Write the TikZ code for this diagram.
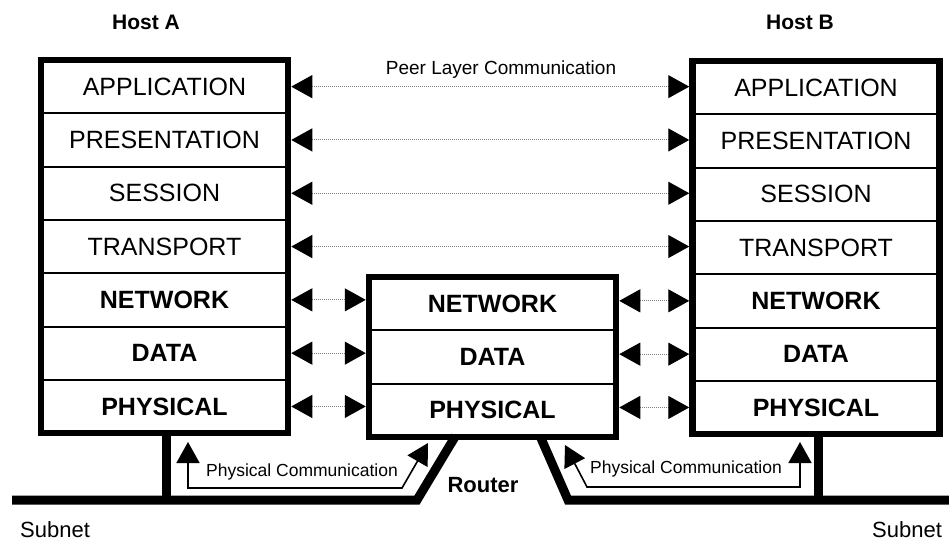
\documentclass[tikz,border=0pt]{standalone}
\usepackage{fontspec}
\setmainfont{Liberation Sans}
\usetikzlibrary{arrows.meta,calc}

\tikzset{
	layer/.style={draw, line width=2pt, minimum width=247pt, minimum height=53.3pt, inner sep=0pt, outer sep=0pt, font=\fontsize{25}{25}\selectfont},
	lowlayer/.style={layer, font=\fontsize{25}{25}\selectfont\bfseries},
	frame/.style={line width=6.5pt},
	peer/.style={<->, gray, densely dotted, line width=1pt, shorten <=3.25pt, shorten >=3.25pt},
	wire/.style={line width=9pt, line join=miter},
	physcom/.style={<->, line width=1.6pt},
}

\begin{document}
\begin{tikzpicture}[x=1pt, y=-1pt, >={Triangle[length=21pt,width=23pt,color=black]}]
		%%%%% START %%%%%
		\useasboundingbox (0,0) rectangle (949,543);
		
		\node[font=\fontsize{21}{21}\selectfont\bfseries] (host-a) at (146, 22) {Host A};
		\node[font=\fontsize{21}{21}\selectfont\bfseries] (host-b) at (800, 22) {Host B};
		
		\node[layer] (a-app) at (164.5, 86.65) {APPLICATION};
		\node[layer] (a-pres) at (164.5, 139.95) {PRESENTATION};
		\node[layer] (a-sess) at (164.5, 193.25) {SESSION};
		\node[layer] (a-trans) at (164.5, 246.55) {TRANSPORT};
		\node[lowlayer] (a-net) at (164.5, 299.85) {NETWORK};
		\node[lowlayer] (a-data) at (164.5, 353.15) {DATA};
		\node[lowlayer] (a-phys) at (164.5, 406.45) {PHYSICAL};
		\draw[frame] (a-app.north west) rectangle (a-phys.south east);
		
		\node[layer] (b-app) at (816, 87.65) {APPLICATION};
		\node[layer] (b-pres) at (816, 140.95) {PRESENTATION};
		\node[layer] (b-sess) at (816, 194.25) {SESSION};
		\node[layer] (b-trans) at (816, 247.55) {TRANSPORT};
		\node[lowlayer] (b-net) at (816, 300.85) {NETWORK};
		\node[lowlayer] (b-data) at (816, 354.15) {DATA};
		\node[lowlayer] (b-phys) at (816, 407.45) {PHYSICAL};
		\draw[frame] (b-app.north west) rectangle (b-phys.south east);
		
		\node[lowlayer] (r-net) at (492.5, 303.65) {NETWORK};
		\node[lowlayer] (r-data) at (492.5, 356.95) {DATA};
		\node[lowlayer] (r-phys) at (492.5, 410.25) {PHYSICAL};
		\draw[frame] (r-net.north west) rectangle (r-phys.south east);
		
		\node[font=\fontsize{19}{19}\selectfont] (peer-lbl) at (501, 70) {Peer Layer Communication};
		\draw[peer] (a-app.east) -- (a-app.east -| b-app.west);
		\draw[peer] (a-pres.east) -- (a-pres.east -| b-pres.west);
		\draw[peer] (a-sess.east) -- (a-sess.east -| b-sess.west);
		\draw[peer] (a-trans.east) -- (a-trans.east -| b-trans.west);
		
		\draw[peer] (a-net.east) -- (a-net.east -| r-net.west);
		\draw[peer] (a-data.east) -- (a-data.east -| r-data.west);
		\draw[peer] (a-phys.east) -- (a-phys.east -| r-phys.west);
		\draw[peer] (b-net.west -| r-net.east) -- (b-net.west);
		\draw[peer] (b-data.west -| r-data.east) -- (b-data.west);
		\draw[peer] (b-phys.west -| r-phys.east) -- (b-phys.west);
		
		\draw[wire] (12, 500) -- (417, 500) -- (455.5, 436);
		\draw[wire] (540, 436) -- (568, 500) -- (949, 500);
		\draw[wire] (166, 433) -- (166, 500);
		\draw[wire] (818, 434) -- (818, 500);
		
		\coordinate (pc-a) at (188, 442);
		\coordinate (pc-a1) at (188, 488);
		\coordinate (pc-a2) at (402, 488);
		\coordinate (pc-ra) at (428, 443);
		\draw[physcom] (pc-a) -- (pc-a1) -- (pc-a2) -- (pc-ra);
		\node[font=\fontsize{17.5}{17.5}\selectfont] (pc-lbl-a) at (302, 472) {Physical Communication};
		
		\coordinate (pc-rb) at (565, 445);
		\coordinate (pc-b1) at (587, 487);
		\coordinate (pc-b2) at (800, 487);
		\coordinate (pc-b) at (800, 442);
		\draw[physcom] (pc-rb) -- (pc-b1) -- (pc-b2) -- (pc-b);
		\node[font=\fontsize{17.5}{17.5}\selectfont] (pc-lbl-b) at (686, 469) {Physical Communication};
		
		\node[font=\fontsize{22}{22}\selectfont\bfseries] (router) at (483, 485) {Router};
		\node[font=\fontsize{22}{22}\selectfont, anchor=west, inner sep=0pt] (subnet-a) at (20, 530) {Subnet};
		\node[font=\fontsize{22}{22}\selectfont, anchor=west, inner sep=0pt] (subnet-b) at (872, 530) {Subnet};
		
		%%%%% END %%%%%
\end{tikzpicture}
\end{document}
